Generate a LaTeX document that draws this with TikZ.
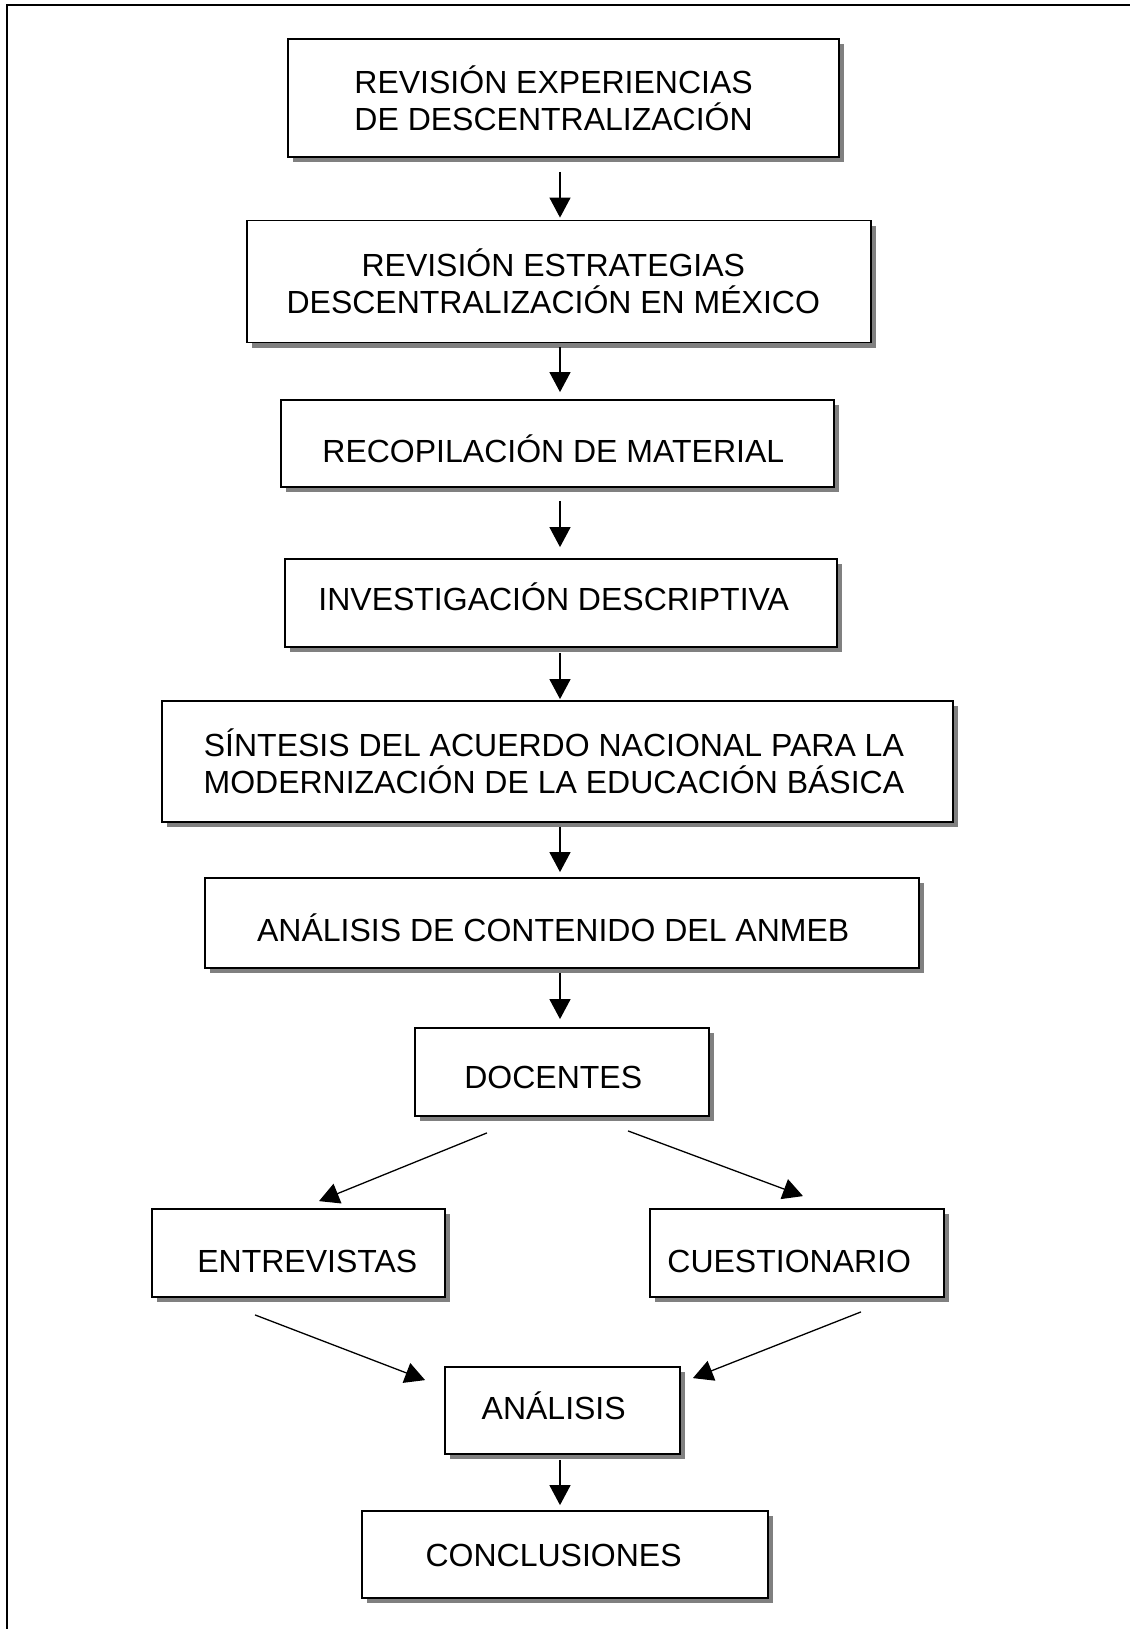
\documentclass[tikz,border=0pt]{standalone}
\usepackage{fontspec}
\setmainfont{Liberation Sans}
\usetikzlibrary{arrows.meta,calc,positioning,shadows}

\begin{document}
\begin{tikzpicture}[x=0.5pt,y=-0.5pt,>={Triangle[width=10.5pt,length=10pt]},line width=0.65pt,
    box/.style={draw,fill=white,line width=0.9pt,align=center,inner sep=0pt,
      font=\fontsize{16}{18.7}\selectfont,
      drop shadow={shadow xshift=2.5pt,shadow yshift=-2.5pt,fill=black!50,opacity=1}},
    cap/.style={text height=#1,text depth=0pt}]
	\useasboundingbox (0,0) rectangle (1130,1629);
	\draw[line width=1pt] (7,1629) -- (7,5) -- (1130,5);
	\node[box,minimum width=275.5pt,minimum height=59pt] (exp) at (563.5,98) {\hspace*{-9.9pt}REVISIÓN EXPERIENCIAS\\\hspace*{-9.9pt}DE DESCENTRALIZACIÓN};
	\node[box,minimum width=312pt,minimum height=61pt] (est) at (559,281.5) {\hspace*{-5.7pt}REVISIÓN ESTRATEGIAS\\\hspace*{-5.7pt}DESCENTRALIZACIÓN EN MÉXICO};
	\node[box,cap=19.3pt,minimum width=276.5pt,minimum height=43.5pt] (rec) at (557.5,443.5) {\hspace*{-4.2pt}RECOPILACIÓN DE MATERIAL};
	\node[box,cap=7.9pt,minimum width=276pt,minimum height=44pt] (inv) at (561,603) {\hspace*{-7.3pt}INVESTIGACIÓN DESCRIPTIVA};
	\node[box,minimum width=395.5pt,minimum height=60.5pt] (sin) at (557.5,761.5) {\hspace*{-3.6pt}SÍNTESIS DEL ACUERDO NACIONAL PARA LA\\\hspace*{-3.6pt}MODERNIZACIÓN DE LA EDUCACIÓN BÁSICA};
	\node[box,cap=18.3pt,minimum width=357pt,minimum height=45pt] (ana) at (562,923) {\hspace*{-8.8pt}ANÁLISIS DE CONTENIDO DEL ANMEB};
	\node[box,cap=16.2pt,minimum width=147pt,minimum height=44pt] (doc) at (562,1072) {\hspace*{-8.8pt}DOCENTES};
	\node[box,cap=19.3pt,minimum width=146.5pt,minimum height=44pt] (ent) at (298.5,1253) {\hspace*{8.8pt}ENTREVISTAS};
	\node[box,cap=19.3pt,minimum width=147pt,minimum height=44pt] (cue) at (797,1253) {\hspace*{-7.8pt}CUESTIONARIO};
	\node[box,cap=9.4pt,minimum width=117.5pt,minimum height=43.5pt] (res) at (562.5,1410.5) {\hspace*{-8.8pt}ANÁLISIS};
	\node[box,cap=11.5pt,minimum width=203pt,minimum height=43.5pt] (con) at (565,1554.5) {\hspace*{-11.4pt}CONCLUSIONES};
	\coordinate (ax) at (560,0);
	\path[->]
		(exp.south -| ax) edge[shorten <=7pt,shorten >=1pt] (est.north -| ax)
		(est.south -| ax) edge[shorten <=2pt,shorten >=3.5pt] (rec.north -| ax)
		(rec.south -| ax) edge[shorten <=6.5pt,shorten >=5.5pt] (inv.north -| ax)
		(inv.south -| ax) edge[shorten <=2.5pt,shorten >=0.5pt] (sin.north -| ax)
		(sin.south -| ax) edge[shorten <=2pt,shorten >=2.5pt] (ana.north -| ax)
		(ana.south -| ax) edge[shorten <=2pt,shorten >=4pt] (doc.north -| ax)
		(res.south -| ax) edge[shorten <=2.5pt,shorten >=2.5pt] (con.north -| ax);
	\path[->]
		($(doc.south)+(-75,16)$) edge ($(ent.north)+(20.5,-7)$)
		($(doc.south)+(66,14)$) edge ($(cue.north)+(6,-12)$)
		($(ent.south)+(-43.5,17)$) edge ($(res.north west)+(-19,14)$)
		($(cue.south)+(64,14)$) edge ($(res.north east)+(12,12)$);
\end{tikzpicture}
\end{document}
